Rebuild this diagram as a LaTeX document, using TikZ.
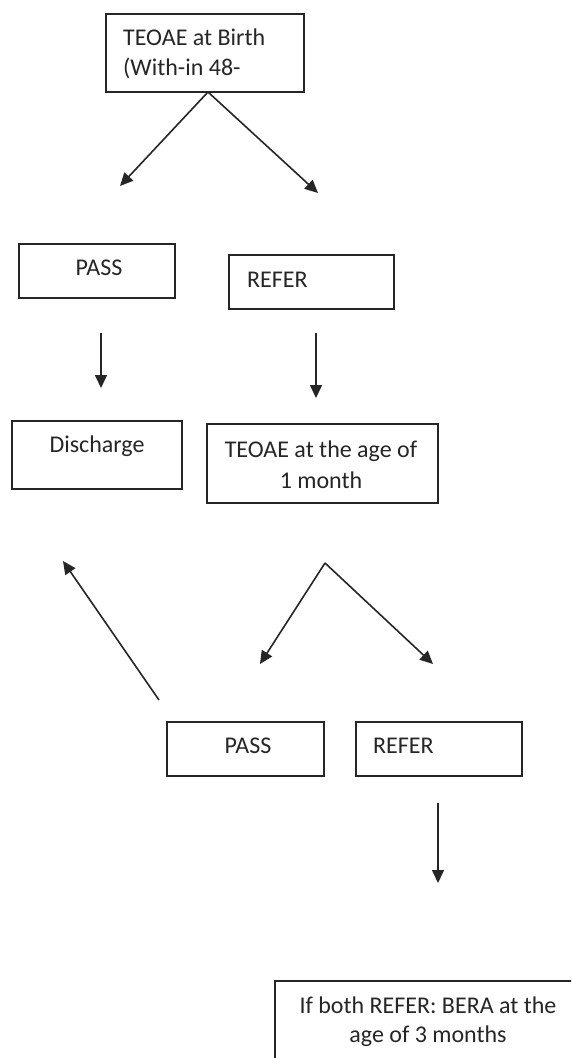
\documentclass[tikz,border=0pt]{standalone}
\usepackage{fontspec}
\setmainfont{Carlito}
\usetikzlibrary{arrows.meta}
\begin{document}
\begin{tikzpicture}[x=1pt,y=-1pt,
  box/.style={draw=black!85,line width=1.6pt},
  lbl/.style={inner sep=0pt,font=\fontsize{24}{29}\selectfont,text=black!85},
  arr/.style={draw=black!85,line width=1.6pt,-{Triangle[length=13pt,width=12pt]}}]
\useasboundingbox (0,0) rectangle (571,1058);
\clip (0,0) rectangle (571,1058);
\fill[white] (0,0) rectangle (571,1058);
% boxes
\draw[box] (106,14) rectangle (304,92) coordinate (top);
\draw[box] (19,244) rectangle (175,298);
\draw[box] (229,255) rectangle (394,309);
\draw[box] (12,421) rectangle (182,489);
\draw[box] (207,424) rectangle (438,503);
\draw[box] (167,722) rectangle (324,776);
\draw[box] (356,722) rectangle (522,776);
\draw[box] (275,981) rectangle (600,1100);
% texts
\node[lbl,anchor=base west] (t1a) at (123,45) {TEOAE at Birth};
\node[lbl,anchor=base west] (t1b) at (123,75) {(With-in 48-};
\node[lbl,anchor=base] (p1) at (99,275) {PASS};
\node[lbl,anchor=base west] (r1) at (247,287) {REFER};
\node[lbl,anchor=base] (d1) at (97,452) {Discharge};
\node[lbl,anchor=base] (t2a) at (321,457) {TEOAE at the age of};
\node[lbl,anchor=base] (t2b) at (321,488) {1 month};
\node[lbl,anchor=base] (p2) at (248,753) {PASS};
\node[lbl,anchor=base west] (r2) at (373,753) {REFER};
\node[lbl,anchor=base] (b1) at (428,1013) {If both REFER: BERA at the};
\node[lbl,anchor=base] (b2) at (428,1042) {age of 3 months};
% arrow end points
\coordinate (a0) at (208,92);
\coordinate (a1) at (120,186);
\coordinate (a2) at (318,193);
\coordinate (b0) at (101,333);
\coordinate (b1e) at (101,388);
\coordinate (c0) at (316,333);
\coordinate (c1) at (316,398);
\coordinate (d0) at (325,563);
\coordinate (d1e) at (260,664);
\coordinate (d2) at (433,664);
\coordinate (e0) at (159,700);
\coordinate (e1) at (63,561);
\coordinate (f0) at (438,803);
\coordinate (f1) at (438,883);
\draw[arr] (a0) -- (a1);
\draw[arr] (a0) -- (a2);
\draw[arr] (b0) -- (b1e);
\draw[arr] (c0) -- (c1);
\draw[arr] (d0) -- (d1e);
\draw[arr] (d0) -- (d2);
\draw[arr] (e0) -- (e1);
\draw[arr] (f0) -- (f1);
\end{tikzpicture}
\end{document}
